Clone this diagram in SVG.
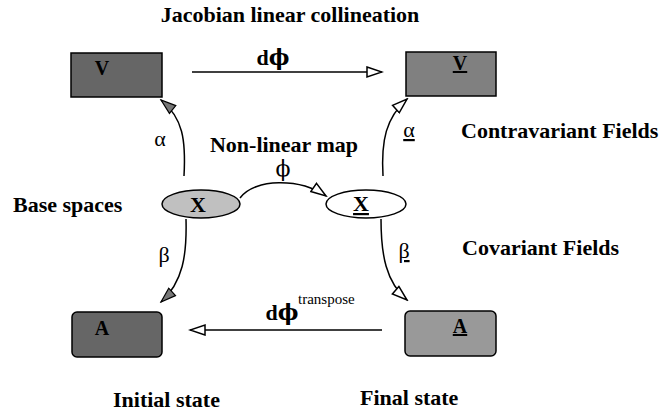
<svg xmlns="http://www.w3.org/2000/svg" width="662" height="413" viewBox="0 0 662 413">
<style>
text{font-family:"Liberation Serif","Times New Roman",serif;fill:#000}
.b{font-weight:bold;font-size:22px}
.n{font-weight:bold;font-size:20px}
.g{font-size:22px}
.phi{font-family:"DejaVu Serif",serif}
.u{text-decoration:underline}
.box{stroke:#000;stroke-width:1.5}
.edge{fill:none;stroke:#000;stroke-width:1.5}
</style>
<defs>
<marker id="open" markerUnits="userSpaceOnUse" markerWidth="18" markerHeight="14" viewBox="-1 -1 18 12" refX="15" refY="5" orient="auto">
<path d="M0,0 L15,5 L0,10 z" fill="#fff" stroke="#000" stroke-width="1.5"/>
</marker>
<marker id="filled" markerUnits="userSpaceOnUse" markerWidth="18" markerHeight="14" viewBox="-1 -1 18 12" refX="15" refY="5" orient="auto">
<path d="M0,0 L15,5 L0,10 z" fill="#777" stroke="#000" stroke-width="1.2"/>
</marker>
</defs>

<text class="b" x="290" y="22" text-anchor="middle">Jacobian linear collineation</text>
<text class="b" x="13" y="212">Base spaces</text>
<text class="b" x="461" y="138">Contravariant Fields</text>
<text class="b" x="462" y="255">Covariant Fields</text>
<text class="b" x="113" y="407">Initial state</text>
<text class="b" x="360" y="405">Final state</text>
<text class="b" x="284" y="152" text-anchor="middle">Non-linear map</text>

<g id="connectors">
<path class="edge" d="M192,72 L382,72" marker-end="url(#open)"/>
<path class="edge" d="M382,330 L190,330" marker-end="url(#open)"/>
<path class="edge" d="M184,176 C186,140 183,118 161,100" marker-end="url(#filled)"/>
<path class="edge" d="M383,176 C381,140 386,118 407,99" marker-end="url(#open)"/>
<path class="edge" d="M186,219 C187,255 183,282 161,302" marker-end="url(#filled)"/>
<path class="edge" d="M381,219 C381,255 386,282 407,300" marker-end="url(#open)"/>
<path class="edge" d="M240,198 C255,178 300,178 326,196" marker-end="url(#open)"/>
<text class="b" x="273" y="65" text-anchor="middle" font-size="21">d<tspan class="phi">ϕ</tspan></text>
<text class="b" x="282" y="320" text-anchor="middle" font-size="21">d<tspan class="phi">ϕ</tspan></text>
<text x="298" y="304" font-size="15">transpose</text>
<text class="g phi" x="283" y="176" text-anchor="middle" font-size="17">ϕ</text>
<text class="g" x="160" y="146" text-anchor="middle">α</text>
<text class="g u" x="409" y="137" text-anchor="middle">α</text>
<text class="g" x="164" y="262" text-anchor="middle">β</text>
<text class="g u" x="404" y="258" text-anchor="middle">β</text>
</g>

<g id="V">
<rect class="box" x="71" y="53" width="91" height="44" fill="#666"/>
<text class="n" x="102" y="75" text-anchor="middle">V</text>
</g>
<g id="V_">
<rect class="box" x="406" y="52" width="90" height="44" fill="#808080"/>
<text class="n u" x="460" y="70" text-anchor="middle">V</text>
</g>
<g id="X">
<ellipse class="box" cx="201" cy="204" rx="39" ry="14" fill="#c0c0c0"/>
<text class="b" x="198" y="212" text-anchor="middle">X</text>
</g>
<g id="X_">
<ellipse class="box" cx="366" cy="204" rx="40" ry="14" fill="#fff"/>
<text class="b u" x="361" y="211" text-anchor="middle">X</text>
</g>
<g id="A">
<rect class="box" x="72" y="312" width="90" height="45" rx="5" fill="#666"/>
<text class="n" x="102" y="335" text-anchor="middle">A</text>
</g>
<g id="A_">
<rect class="box" x="405" y="311" width="91" height="45" rx="5" fill="#999"/>
<text class="n u" x="460" y="333" text-anchor="middle">A</text>
</g>
</svg>
